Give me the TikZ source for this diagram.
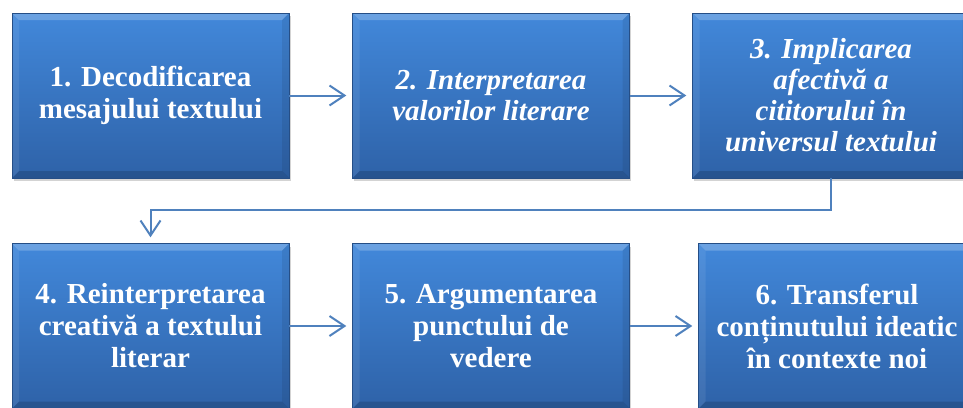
\documentclass[tikz,border=0pt]{standalone}
\usepackage{fontspec}
\setmainfont{Liberation Serif}
\usepackage{tikz}
\usetikzlibrary{arrows.meta,shadows}

\definecolor{boxtop}{RGB}{66,136,218}
\definecolor{boxbot}{RGB}{46,98,168}
\definecolor{linkblue}{RGB}{79,129,189}

\tikzset{
    etapa/.style={minimum width=277pt, minimum height=165pt, inner sep=0pt,
        top color=boxtop, bottom color=boxbot, draw=boxbot!80!black, line width=.4pt,
        text=white, text width=266pt, align=flush center,
        font=\fontsize{29}{32}\selectfont\bfseries,
        drop shadow={shadow xshift=1.5pt, shadow yshift=-3pt, opacity=.35},
        path picture={
            \fill[white,opacity=.22] (path picture bounding box.north west) -- (path picture bounding box.north east)
                -- ([xshift=-7pt,yshift=-7pt]path picture bounding box.north east) -- ([xshift=7pt,yshift=-7pt]path picture bounding box.north west) -- cycle;
            \fill[black,opacity=.15] (path picture bounding box.south west) -- (path picture bounding box.south east)
                -- ([xshift=-7pt,yshift=7pt]path picture bounding box.south east) -- ([xshift=7pt,yshift=7pt]path picture bounding box.south west) -- cycle;
            \fill[white,opacity=.08] (path picture bounding box.north west) -- ([xshift=7pt,yshift=-7pt]path picture bounding box.north west)
                -- ([xshift=7pt,yshift=7pt]path picture bounding box.south west) -- (path picture bounding box.south west) -- cycle;
            \fill[black,opacity=.08] (path picture bounding box.north east) -- ([xshift=-7pt,yshift=-7pt]path picture bounding box.north east)
                -- ([xshift=-7pt,yshift=7pt]path picture bounding box.south east) -- (path picture bounding box.south east) -- cycle;
        }},
    italic/.style={font=\fontsize{29}{31}\selectfont\bfseries\itshape},
    legatura/.style={draw=linkblue, line width=2pt, shorten >=6pt,
        -{Straight Barb[length=15pt,width=20pt,line width=2pt]}}
}

\begin{document}
\begin{tikzpicture}[x=1pt,y=-1pt]
        \useasboundingbox (0,0) rectangle (963,407);
        \clip (0,0) rectangle (963,407);
        % first row
        \node[etapa] (dec) at (150.5,95.5) {1. Decodificarea\\mesajului textului};
        \node[etapa,italic] (inter) at (491,95.5) {2. Interpretarea\\valorilor literare};
        \node[etapa,italic] (impl) at (831,95.5) {3. Implicarea\\afectivă a\\cititorului în\\universul textului};
        % second row
        \node[etapa] (reint) at (150.5,326) {4. Reinterpretarea\\creativă a textului\\literar};
        \node[etapa] (arg) at (491,326) {5. Argumentarea\\punctului de\\vedere};
        \node[etapa] (transf) at (837,326) {6. Transferul\\conținutului ideatic\\în contexte noi};
        \draw[legatura] (dec) -- (inter);
        \draw[legatura] (inter) -- (impl);
        \draw[legatura] (impl.south) -- ++(0,32) -| (reint.north);
        \draw[legatura] (reint) -- (arg);
        \draw[legatura] (arg) -- (transf);
    \end{tikzpicture}
\end{document}
